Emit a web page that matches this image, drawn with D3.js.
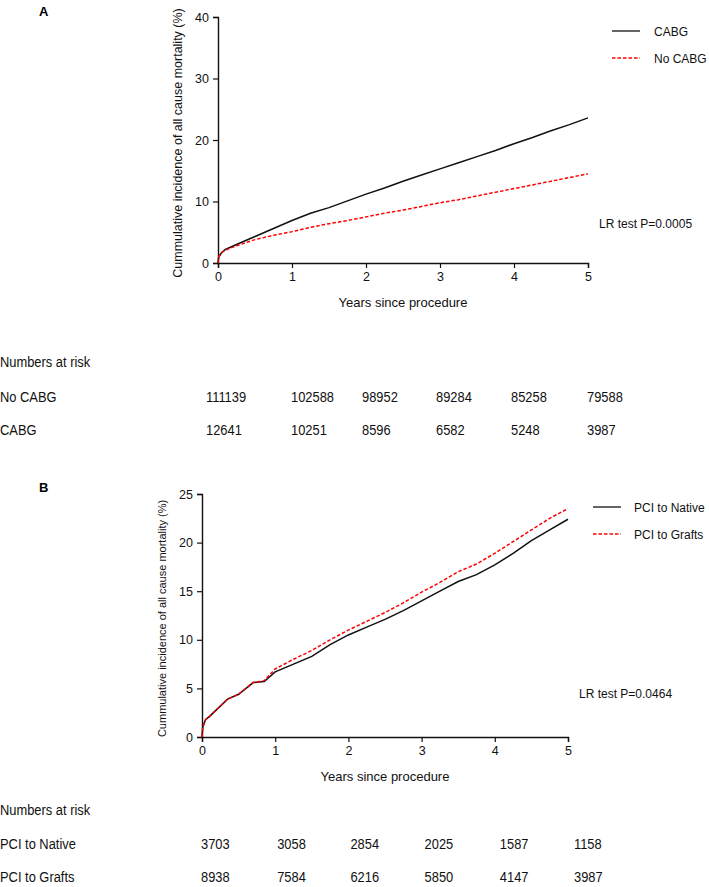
<!DOCTYPE html>
<html>
<head>
<meta charset="utf-8">
<script src="https://cdn.jsdelivr.net/npm/d3@7"></script>
<style>
  body { margin: 0; background: #fff; }
  svg { display: block; font-family: "Liberation Sans", Arial, sans-serif; }
  .risk { font-size: 15px; }
</style>
</head>
<body>
<svg id="chart" width="709" height="887"></svg>
<script>
const canvasWidth = 709,
    canvasHeight = 887,
    narrow = 0.86

// panel A
const yearsA = [0, 0.01, 0.05, 0.1, 0.25, 0.5, 0.75, 1, 1.25, 1.5, 1.75, 2, 2.25, 2.5, 2.75, 3, 3.25, 3.5, 3.75, 4, 4.25, 4.5, 4.75, 5]
const cabg = [0, 1.0, 1.7, 2.2, 3.0, 4.3, 5.6, 6.9, 8.1, 9.0, 10.1, 11.2, 12.2, 13.3, 14.3, 15.3, 16.3, 17.3, 18.3, 19.4, 20.4, 21.5, 22.5, 23.6]
const noCabg = [0, 1.0, 1.7, 2.1, 2.8, 3.8, 4.5, 5.1, 5.8, 6.4, 6.9, 7.5, 8.1, 8.6, 9.2, 9.8, 10.3, 10.9, 11.5, 12.1, 12.7, 13.3, 13.9, 14.5]
const riskA = [
    { label: 'No CABG', values: [111139, 102588, 98952, 89284, 85258, 79588] },
    { label: 'CABG', values: [12641, 10251, 8596, 6582, 5248, 3987] }
]

// panel B
const yearsB = [0, 0.01, 0.05, 0.1, 0.35, 0.5, 0.7, 0.85, 1, 1.25, 1.5, 1.75, 2, 2.25, 2.5, 2.75, 3, 3.25, 3.5, 3.75, 4, 4.25, 4.5, 4.75, 5]
const pciNative = [0, 1.0, 1.8, 2.1, 3.9, 4.4, 5.6, 5.7, 6.7, 7.5, 8.3, 9.5, 10.5, 11.3, 12.1, 13.0, 14.0, 15.0, 16.0, 16.7, 17.7, 18.9, 20.2, 21.3, 22.4]
const pciGrafts = [0, 1.0, 1.8, 2.1, 3.9, 4.4, 5.6, 5.8, 7.0, 8.0, 8.9, 10.0, 11.0, 11.9, 12.8, 13.8, 14.9, 15.9, 17.0, 17.8, 18.9, 20.1, 21.3, 22.5, 23.5]
const riskB = [
    { label: 'PCI to Native', values: [3703, 3058, 2854, 2025, 1587, 1158] },
    { label: 'PCI to Grafts', values: [8938, 7584, 6216, 5850, 4147, 3987] }
]

const xTicks = [0, 1, 2, 3, 4, 5]
const yLabel = 'Cummulative incidence of all cause mortality (%)'
const xLabel = 'Years since procedure'

const svg = d3.select('#chart')

drawPanel({
    letter: 'A', letterY: 16,
    left: 218, right: 588, top: 17, bottom: 263,
    yMax: 40, yTicks: [0, 10, 20, 30, 40],
    yLabelSize: 12.5,
    series: [
        { name: 'CABG', years: yearsA, values: cabg, color: '#111', dash: null },
        { name: 'No CABG', years: yearsA, values: noCabg, color: '#f00', dash: '3.5,2' }
    ],
    legendX: 612, legendY: 31, legendText: 42,
    lrText: 'LR test P=0.0005', lrX: 599, lrY: 228,
    risk: riskA, riskTitleY: 367, riskFirstRow: 402, riskOffsets: [-12, -1, -4, -4, -3, -1]
})

drawPanel({
    letter: 'B', letterY: 492,
    left: 202, right: 568, top: 494, bottom: 737,
    yMax: 25, yTicks: [0, 5, 10, 15, 20, 25],
    yLabelSize: 11,
    series: [
        { name: 'PCI to Native', years: yearsB, values: pciNative, color: '#111', dash: null },
        { name: 'PCI to Grafts', years: yearsB, values: pciGrafts, color: '#f00', dash: '3.5,2' }
    ],
    legendX: 593, legendY: 507, legendText: 41,
    lrText: 'LR test P=0.0464', lrX: 579, lrY: 698,
    risk: riskB, riskTitleY: 815, riskFirstRow: 849, riskOffsets: [-1, 2, 2, 3, 5, 6]
})

function drawPanel(p) {
    const x = d3.scaleLinear().domain([0, 5]).range([p.left, p.right])
    const y = d3.scaleLinear().domain([0, p.yMax]).range([p.bottom, p.top])
    const g = svg.append('g')

    g.append('text')
        .attr('x', 39).attr('y', p.letterY)
        .style('font-weight', 'bold').style('font-size', '13px')
        .text(p.letter)

    const xAxis = g.append('g')
        .attr('transform', `translate(0, ${p.bottom})`)
        .call(d3.axisBottom(x).tickValues(xTicks).tickSize(5).tickPadding(4).tickFormat(d3.format('d')))
    const yAxis = g.append('g')
        .attr('transform', `translate(${p.left}, 0)`)
        .call(d3.axisLeft(y).tickValues(p.yTicks).tickSize(5).tickPadding(4).tickFormat(d3.format('d')))

    ;[xAxis, yAxis].forEach(a => {
        a.select('.domain').attr('stroke', '#111').attr('stroke-width', 1.4)
        a.selectAll('.tick line').attr('stroke', '#111').attr('stroke-width', 1.2)
        a.selectAll('.tick text').attr('fill', '#111')
            .style('font-family', '"Liberation Sans", Arial, sans-serif').style('font-size', '12.5px')
    })

    g.append('text')
        .attr('x', (p.left + p.right) / 2).attr('y', p.bottom + 44)
        .attr('text-anchor', 'middle')
        .style('font-size', '13px').attr('fill', '#111')
        .text(xLabel)

    g.append('text')
        .attr('transform', `translate(${p.left - 36}, ${(p.top + p.bottom) / 2 + 3}) rotate(-90)`)
        .attr('text-anchor', 'middle')
        .style('font-size', p.yLabelSize + 'px').attr('fill', '#111')
        .text(yLabel)

    const line = d3.line()
        .x(d => x(d[0]))
        .y(d => y(d[1]))

    // black first, red dashed on top
    p.series.forEach(s => {
        g.append('path')
            .datum(s.years.map((t, i) => [t, s.values[i]]))
            .attr('fill', 'none')
            .attr('stroke', s.color)
            .attr('stroke-width', 1.5)
            .attr('stroke-dasharray', s.dash)
            .attr('d', line)
    })

    const legend = g.selectAll('g.legend')
        .data(p.series)
        .enter().append('g')
        .attr('class', 'legend')
        .attr('transform', (d, i) => `translate(${p.legendX}, ${p.legendY + i * 27})`)
    legend.append('line')
        .attr('x1', 0).attr('x2', 28)
        .attr('stroke', d => d.color)
        .attr('stroke-width', 1.3)
        .attr('stroke-dasharray', d => d.dash)
    legend.append('text')
        .attr('x', p.legendText).attr('y', 4.5)
        .style('font-size', '12px').attr('fill', '#111')
        .text(d => d.name)

    g.append('text')
        .attr('x', p.lrX).attr('y', p.lrY)
        .style('font-size', '12px').attr('fill', '#111')
        .text(p.lrText)

    // risk table, squeezed horizontally to look like a narrow face
    const risk = g.append('g').attr('class', 'risk')
    risk.append('text')
        .attr('transform', `translate(0, ${p.riskTitleY}) scale(${narrow}, 1)`)
        .attr('fill', '#111')
        .text('Numbers at risk')
    const row = risk.selectAll('g.row')
        .data(p.risk)
        .enter().append('g')
        .attr('class', 'row')
        .attr('transform', (d, i) => `translate(0, ${p.riskFirstRow + i * 33})`)
    row.append('text')
        .attr('transform', `scale(${narrow}, 1)`)
        .attr('fill', '#111')
        .text(d => d.label)
    row.selectAll('text.n')
        .data(d => d.values)
        .enter().append('text')
        .attr('class', 'n')
        .attr('transform', (d, i) => `translate(${x(xTicks[i]) + p.riskOffsets[i]}, 0) scale(${narrow}, 1)`)
        .attr('fill', '#111')
        .text(d => d)
}
</script>
</body>
</html>
